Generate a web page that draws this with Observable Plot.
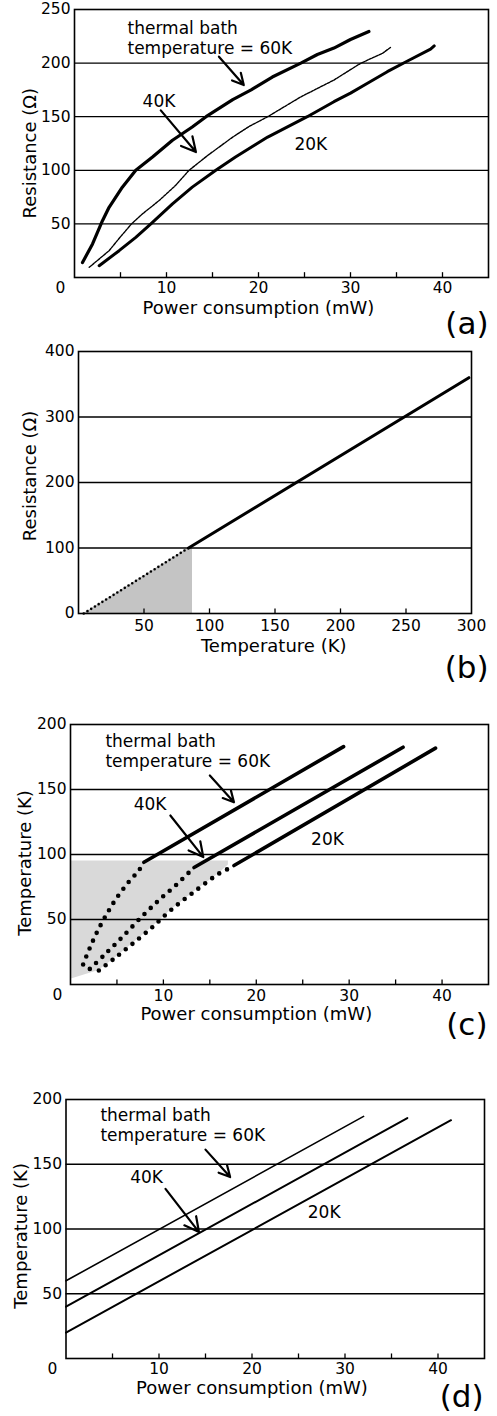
<!DOCTYPE html>
<html>
<head>
<meta charset="utf-8">
<script src="https://cdn.jsdelivr.net/npm/d3@7"></script>
<script src="https://cdn.jsdelivr.net/npm/@observablehq/plot@0.6"></script>
<style>
  html, body { margin: 0; padding: 0; background: #fff; }
  #wrap { width: 497px; }
  #wrap svg { display: block; }
</style>
</head>
<body>
<div id="wrap"></div>
<script>
// ---------- (a) measured resistance vs power consumption ----------
const a60Power = [0.87, 1.96, 3.04, 3.76, 5.2, 6.66, 8.48, 10.65, 12.8, 14.3, 17.2, 19.2, 21.5, 24.6, 26.4, 28.2, 30.0, 32.0];
const a60Res   = [14, 31.3, 53, 65.5, 84.3, 100, 112.4, 128, 140.4, 150, 166, 175, 187, 200, 208, 214, 222, 229.5];
const a40Power = [1.6, 3.76, 5.0, 6.2, 7.4, 9.2, 11.0, 12.45, 14.5, 17.2, 19.0, 21.0, 24.6, 28.2, 31.1, 33.5, 34.4];
const a40Res   = [9.5, 25, 38, 50, 59.4, 71.8, 86, 100, 114, 131, 141, 150, 168.5, 184.2, 199.8, 209.2, 215];
const a20Power = [2.68, 4.85, 6.66, 8.3, 10.65, 12.8, 15.36, 17.5, 21.0, 25.3, 28.2, 30.0, 31.8, 34.0, 36.2, 38.7, 39.1];
const a20Res   = [11, 25, 37.5, 50, 68.7, 84.3, 100, 112.4, 131, 150, 164, 172, 181, 192, 202, 213, 216];
const aXTicks = [10, 20, 30, 40];
const aYTicks = [50, 100, 150, 200, 250];
const aGrid = [50, 100, 150, 200];
const aMinorTicks = [5, 10, 15, 20, 25, 30, 35, 40];

// ---------- (b) resistance vs temperature ----------
const bDottedTemp = [4, 84];
const bDottedRes  = [0, 100];
const bSolidTemp  = [84, 298];
const bSolidRes   = [100, 360];
const bShadeTemp  = [4, 84, 87];
const bShadeRes   = [0, 100, 100];
const bXTicks = [50, 100, 150, 200, 250, 300];
const bYTicks = [0, 100, 200, 300, 400];
const bGrid = [100, 200, 300];
const bMinorTicks = [50, 100, 150, 200, 250];

// ---------- (c) temperature vs power (derived) ----------
const c60DotPower = [1.36, 2.08, 2.94, 3.87, 4.84, 6.1, 7.35, 7.9];
const c60DotTemp  = [15.4, 28.2, 41.5, 53.8, 65.2, 77.4, 87.7, 93.3];
const c40DotPower = [2.08, 3.58, 5.56, 7.8, 9.68, 11.5, 13.3];
const c40DotTemp  = [12, 22.3, 36.4, 53.1, 65.9, 77.4, 90.2];
const c20DotPower = [3.05, 4.66, 6.45, 8.6, 10.75, 13.26, 15.95, 17.0];
const c20DotTemp  = [10.8, 19.7, 30, 42.8, 56.9, 71, 85.2, 89];
const c60LinePower = [7.9, 29.4];
const c60LineTemp  = [94, 183];
const c40LinePower = [13.3, 35.8];
const c40LineTemp  = [90, 182.5];
const c20LinePower = [17.6, 39.3];
const c20LineTemp  = [91.5, 181.8];
const cShadePower = [0, 3.05, 4.66, 6.45, 8.6, 10.75, 13.26, 15.95, 17.0];
const cShadeLow   = [4, 10.8, 19.7, 30, 42.8, 56.9, 71, 85.2, 92];
const cShadeHigh  = [95, 95, 95, 95, 95, 95, 95, 95, 95];
const cdXTicks = [10, 20, 30, 40];
const cdYTicks = [50, 100, 150, 200];
const cdGrid = [50, 100, 150];
const cdMinorTicks = [5, 10, 15, 20, 25, 30, 35, 40];

// ---------- (d) temperature vs power (linear model) ----------
const d60Power = [0, 32];
const d60Temp  = [60, 187];
const d40Power = [0, 36.7];
const d40Temp  = [40, 185.7];
const d20Power = [0, 41.4];
const d20Temp  = [20, 184];

// ---------- annotations (data coordinates) ----------
const annoTexts = ["thermal bath\ntemperature = 60K", "40K", "20K"];
const aAnnoX = [5.76, 7.4, 23.9];
const aAnnoY = [208.2, 159, 119.3];
const cAnnoX = [3.76, 6.8, 25.9];
const cAnnoY = [167, 134.4, 107.5];
const dAnnoX = [3.7, 6.9, 26];
const dAnnoY = [167.7, 135.5, 108.7];
const aArrows = [{x1: 15.7, y1: 206, x2: 18.4, y2: 179.5}, {x1: 9.38, y1: 155.9, x2: 13.2, y2: 117}];
const cArrows = [{x1: 15.0, y1: 160.8, x2: 17.6, y2: 140.2}, {x1: 10.75, y1: 130, x2: 14.3, y2: 98}];
const dArrows = [{x1: 15.0, y1: 161.3, x2: 17.65, y2: 140.1}, {x1: 10.7, y1: 131, x2: 14.3, y2: 97.6}];

// ---------- helpers ----------
const zip = (xs, ys) => xs.map((x, i) => ({x, y: ys[i]}));
const annos = (xs, ys) => annoTexts.map((t, i) => ({t, x: xs[i], y: ys[i]}));
const FONT = "DejaVu Sans, Verdana, sans-serif";
const baseStyle = {fontFamily: FONT, fontSize: "15.5px", color: "#000", background: "#fff"};

function common({xTicks, yTicks, grid, minor, minorLen, xPad, xLabel, xLabelAt, xLabelDy, yLabel, yLabelAt, yLabelDx, tag, tagDx, tagDy, corner0}) {
  const m = [
    Plot.ruleY(grid, {stroke: "#000", strokeWidth: 1.3}),
    Plot.ruleX(minor, {x: d => d, y1: 0, y2: minorLen, stroke: "#000", strokeWidth: 1.3}),
    Plot.axisX({ticks: xTicks, tickSize: 0, tickPadding: xPad, label: null}),
    Plot.axisY({ticks: yTicks, tickSize: 0, tickPadding: 4, label: null}),
    Plot.frame({stroke: "#000", strokeWidth: 1.6}),
    Plot.text([xLabel], {text: d => d, x: () => xLabelAt, frameAnchor: "bottom", dy: xLabelDy, textAnchor: "middle", lineAnchor: "bottom", fontSize: 18}),
    Plot.text([yLabel], {text: d => d, y: () => yLabelAt, frameAnchor: "left", dx: yLabelDx, rotate: -90, textAnchor: "middle", lineAnchor: "middle", fontSize: 18}),
    Plot.text([tag], {text: d => d, frameAnchor: "bottom-right", dx: tagDx, dy: tagDy, textAnchor: "end", lineAnchor: "bottom", fontSize: 31})
  ];
  if (corner0) m.push(Plot.text(["0"], {text: d => d, frameAnchor: "bottom-left", dx: corner0[0], dy: corner0[1], textAnchor: "middle", lineAnchor: "middle"}));
  return m;
}

function annotationMarks(xs, ys, arrows) {
  return [
    Plot.text(annos(xs, ys), {x: "x", y: "y", text: "t", textAnchor: "start", lineAnchor: "bottom", lineHeight: 1.19, fontSize: 17}),
    Plot.arrow(arrows, {x1: "x1", y1: "y1", x2: "x2", y2: "y2", stroke: "#000", strokeWidth: 2.2, headLength: 11, headAngle: 55})
  ];
}

const wrap = document.getElementById("wrap");

// ---------- panel (a) ----------
wrap.append(Plot.plot({
  width: 497, height: 340,
  marginLeft: 74, marginRight: 9, marginTop: 9, marginBottom: 63,
  style: baseStyle,
  x: {domain: [0, 45]},
  y: {domain: [0, 250]},
  marks: [
    Plot.line(zip(a60Power, a60Res), {x: "x", y: "y", stroke: "#000", strokeWidth: 3.2, strokeLinejoin: "round"}),
    Plot.line(zip(a40Power, a40Res), {x: "x", y: "y", stroke: "#000", strokeWidth: 1.4, strokeDasharray: "2.5,1.2"}),
    Plot.line(zip(a20Power, a20Res), {x: "x", y: "y", stroke: "#000", strokeWidth: 3.0, strokeLinejoin: "round"}),
    ...annotationMarks(aAnnoX, aAnnoY, aArrows),
    ...common({xTicks: aXTicks, yTicks: aYTicks, grid: aGrid, minor: aMinorTicks, minorLen: 4.5, xPad: 4.5,
      xLabel: "Power consumption (mW)", xLabelAt: 20, xLabelDy: 36.5,
      yLabel: "Resistance (Ω)", yLabelAt: 116, yLabelDx: -44.5,
      tag: "(a)", tagDx: 0, tagDy: 56, corner0: [-14, 11]})
  ]
}));

// ---------- panel (b) ----------
wrap.append(Plot.plot({
  width: 497, height: 360,
  marginLeft: 78, marginRight: 26, marginTop: 11, marginBottom: 87,
  style: baseStyle,
  x: {domain: [0, 300]},
  y: {domain: [0, 400]},
  marks: [
    Plot.areaY(zip(bShadeTemp, bShadeRes), {x: "x", y1: 0, y2: "y", fill: "#c4c4c4"}),
    Plot.line(zip(bDottedTemp, bDottedRes), {x: "x", y: "y", stroke: "#000", strokeWidth: 2.6, strokeDasharray: "0 4.4", strokeLinecap: "round"}),
    Plot.line(zip(bSolidTemp, bSolidRes), {x: "x", y: "y", stroke: "#000", strokeWidth: 3}),
    ...common({xTicks: bXTicks, yTicks: bYTicks, grid: bGrid, minor: bMinorTicks, minorLen: 7, xPad: 6,
      xLabel: "Temperature (K)", xLabelAt: 149, xLabelDy: 38.7,
      yLabel: "Resistance (Ω)", yLabelAt: 210, yLabelDx: -48.5,
      tag: "(b)", tagDx: 17, tagDy: 64, corner0: null})
  ]
}));

// ---------- panel (c) ----------
wrap.append(Plot.plot({
  width: 497, height: 360,
  marginLeft: 70, marginRight: 9, marginTop: 24, marginBottom: 76,
  style: baseStyle,
  x: {domain: [0, 45]},
  y: {domain: [0, 200]},
  marks: [
    Plot.areaY(cShadePower.map((p, i) => ({x: p, lo: cShadeLow[i], hi: cShadeHigh[i]})), {x: "x", y1: "lo", y2: "hi", fill: "#d9d9d9"}),
    ...[[c60DotPower, c60DotTemp], [c40DotPower, c40DotTemp], [c20DotPower, c20DotTemp]].map(([p, t]) =>
      Plot.line(zip(p, t), {x: "x", y: "y", stroke: "#000", strokeWidth: 4.6, strokeDasharray: "0 8.6", strokeLinecap: "round", curve: "catmull-rom"})),
    ...[[c60LinePower, c60LineTemp], [c40LinePower, c40LineTemp], [c20LinePower, c20LineTemp]].map(([p, t]) =>
      Plot.line(zip(p, t), {x: "x", y: "y", stroke: "#000", strokeWidth: 3.6})),
    ...annotationMarks(cAnnoX, cAnnoY, cArrows),
    ...common({xTicks: cdXTicks, yTicks: cdYTicks, grid: cdGrid, minor: cdMinorTicks, minorLen: 3.5, xPad: 5,
      xLabel: "Power consumption (mW)", xLabelAt: 20, xLabelDy: 35.5,
      yLabel: "Temperature (K)", yLabelAt: 93.5, yLabelDx: -45,
      tag: "(c)", tagDx: -1, tagDy: 50, corner0: [-13, 11]})
  ]
}));

// ---------- panel (d) ----------
wrap.append(Plot.plot({
  width: 497, height: 356,
  marginLeft: 65.5, marginRight: 13, marginTop: 39, marginBottom: 58,
  style: baseStyle,
  x: {domain: [0, 45]},
  y: {domain: [0, 200]},
  marks: [
    Plot.line(zip(d60Power, d60Temp), {x: "x", y: "y", stroke: "#000", strokeWidth: 1.6}),
    Plot.line(zip(d40Power, d40Temp), {x: "x", y: "y", stroke: "#000", strokeWidth: 2}),
    Plot.line(zip(d20Power, d20Temp), {x: "x", y: "y", stroke: "#000", strokeWidth: 2}),
    ...annotationMarks(dAnnoX, dAnnoY, dArrows),
    ...common({xTicks: cdXTicks, yTicks: cdYTicks, grid: cdGrid, minor: cdMinorTicks, minorLen: 3.5, xPad: 4,
      xLabel: "Power consumption (mW)", xLabelAt: 20, xLabelDy: 35.5,
      yLabel: "Temperature (K)", yLabelAt: 94.7, yLabelDx: -45,
      tag: "(d)", tagDx: -1, tagDy: 48, corner0: [-13.5, 11]})
  ]
}));
</script>
</body>
</html>
